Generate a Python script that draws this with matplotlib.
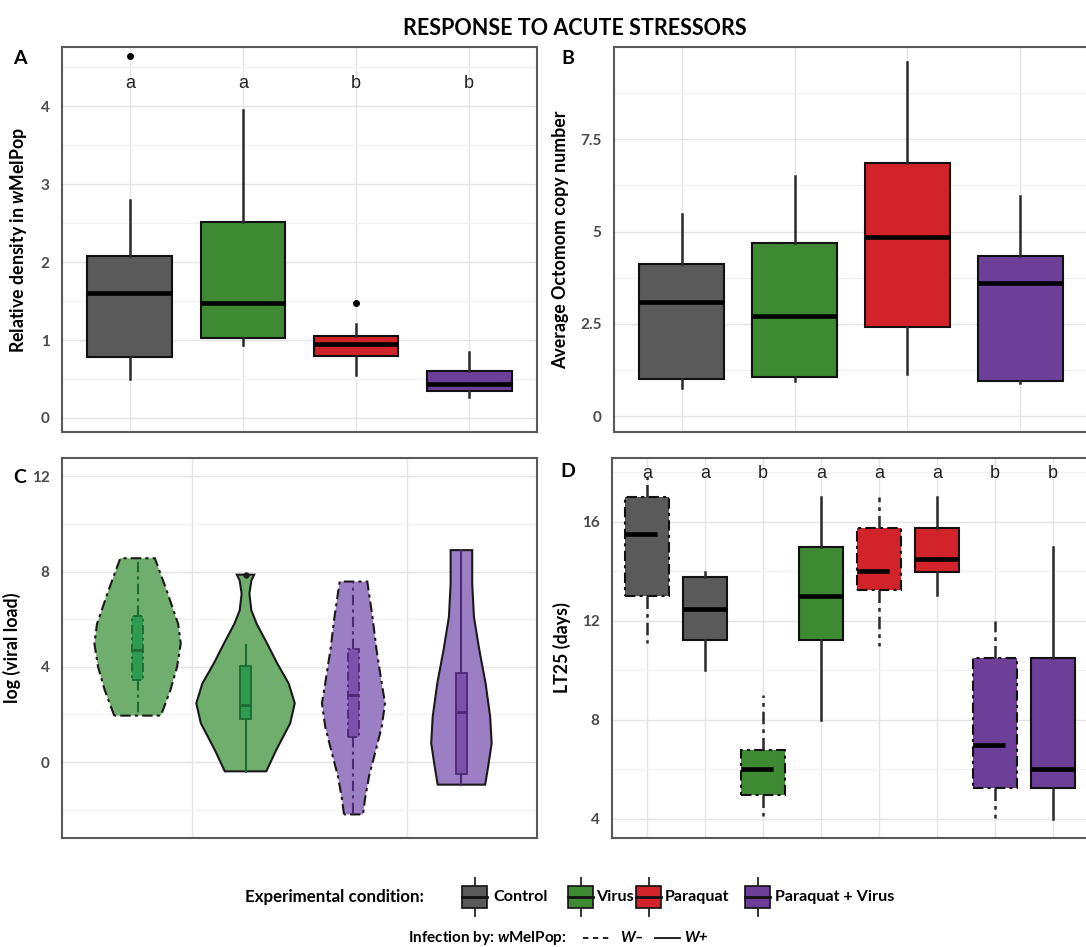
import matplotlib
matplotlib.use("Agg")
import matplotlib.pyplot as plt
import numpy as np
from matplotlib.patches import Rectangle
from matplotlib.lines import Line2D

plt.rcParams['font.family'] = ['Lato', 'DejaVu Sans']
plt.rcParams['mathtext.fontset'] = 'custom'
plt.rcParams['mathtext.rm'] = 'Lato:bold'
plt.rcParams['mathtext.it'] = 'Lato:italic:bold'
plt.rcParams['mathtext.bf'] = 'Lato:bold'

# ---- data ----
conditions = ['Control', 'Virus', 'Paraquat', 'Paraquat + Virus']
cond_colors = ['#5a5a5a', '#3d8a33', '#d2222a', '#6e3f98']

# A: relative density in wMelPop
a_low = [0.50, 0.93, 0.55, 0.27]
a_q1 = [0.78, 1.02, 0.80, 0.35]
a_med = [1.60, 1.48, 0.95, 0.43]
a_q3 = [2.08, 2.52, 1.05, 0.60]
a_high = [2.80, 3.95, 1.20, 0.85]
a_outliers = [[4.64], [], [1.47], []]
a_letters = ['a', 'a', 'b', 'b']

# B: average Octomom copy number
b_low = [0.75, 0.94, 1.15, 0.90]
b_q1 = [1.00, 1.05, 2.42, 0.94]
b_med = [3.08, 2.72, 4.84, 3.60]
b_q3 = [4.13, 4.70, 6.85, 4.35]
b_high = [5.48, 6.50, 9.60, 5.95]

# C: log viral load (Virus W-, Virus W+, P+V W-, P+V W+)
c_groups = ['Virus', 'Paraquat + Virus']
c_infection = ['W-', 'W+', 'W-', 'W+']
c_group_idx = [1, 1, 2, 2]
c_violin_y = [
    [1.95, 3.02, 4.00, 4.98, 5.80, 7.20, 8.56],
    [-0.39, 0.52, 1.63, 2.47, 3.30, 4.14, 4.98, 5.80, 6.37, 7.07, 7.62, 7.87],
    [-2.20, -1.57, -0.60, 0.52, 1.49, 2.47, 3.30, 4.70, 6.09, 7.58],
    [-0.95, -0.18, 0.79, 1.91, 3.30, 4.70, 6.09, 7.48, 8.90],
]
c_violin_hw = [
    [0.108, 0.152, 0.183, 0.200, 0.188, 0.135, 0.080],
    [0.096, 0.143, 0.207, 0.228, 0.200, 0.147, 0.100, 0.052, 0.027, 0.018, 0.027, 0.040],
    [0.044, 0.053, 0.072, 0.104, 0.131, 0.146, 0.131, 0.107, 0.088, 0.064],
    [0.110, 0.124, 0.140, 0.133, 0.112, 0.083, 0.058, 0.050, 0.050],
]
c_low = [1.95, -0.40, -2.20, -0.95]
c_q1 = [3.45, 1.80, 1.05, -0.50]
c_med = [4.70, 2.40, 2.80, 2.10]
c_q3 = [6.15, 4.05, 4.75, 3.75]
c_high = [8.50, 4.90, 7.55, 8.90]
c_outliers = [[], [7.87], [], []]

# D: LT25 (days), conditions x infection
d_condition = ['Control', 'Control', 'Virus', 'Virus', 'Paraquat', 'Paraquat',
               'Paraquat + Virus', 'Paraquat + Virus']
d_infection = ['W-', 'W+', 'W-', 'W+', 'W-', 'W+', 'W-', 'W+']
d_low = [11.1, 10.0, 4.13, 8.0, 11.0, 13.04, 4.04, 4.0]
d_q1 = [13.0, 11.23, 4.96, 11.23, 13.24, 13.97, 5.24, 5.24]
d_med = [15.5, 12.5, 6.0, 13.0, 14.0, 14.5, 7.0, 6.0]
d_q3 = [17.0, 13.77, 6.77, 15.0, 15.74, 15.74, 10.52, 10.52]
d_high = [17.8, 13.97, 9.0, 17.0, 17.0, 17.0, 12.0, 15.0]
d_letters = ['a', 'a', 'b', 'a', 'a', 'a', 'b', 'b']

# ---- style ----
W, H = 1086, 947
DASHED = (0, (5, 2, 1.5, 2))
MED_DASHED = (0, (7, 3))
violin_fill = {'Virus': '#6fae6c', 'Paraquat + Virus': '#9c7ec4'}
inner_fill = {'Virus': '#2e9b50', 'Paraquat + Virus': '#7a52ab'}
inner_edge = {'Virus': '#1d6b33', 'Paraquat + Virus': '#4c2a75'}

fig = plt.figure(figsize=(W / 100, H / 100), dpi=100)


def px_axes(left, top, right, bottom):
    return fig.add_axes([left / W, 1 - bottom / H, (right - left) / W, (bottom - top) / H])


def style_axes(ax, yticks, ylabels, yminor, xticks, ylim, xlim, ylabel):
    ax.set_xlim(xlim)
    ax.set_ylim(ylim)
    ax.set_yticks(yticks)
    ax.set_yticklabels(ylabels, fontweight='bold')
    ax.set_yticks(yminor, minor=True)
    ax.set_xticks(xticks)
    ax.set_xticklabels([])
    ax.grid(True, which='major', color='#e4e4e4', lw=1.0)
    ax.grid(True, which='minor', axis='y', color='#f1f1f1', lw=0.9)
    ax.set_axisbelow(True)
    ax.tick_params(which='both', length=0, pad=9, labelsize=11, labelcolor='#4a4a4a')
    for s in ax.spines.values():
        s.set_color('#5a5a5a')
        s.set_linewidth(1.5)
    ax.set_ylabel(ylabel, fontsize=12.8, fontweight='bold', labelpad=8)


def draw_boxes(ax, pos, low, q1, med, q3, high, colors, dashed, fliers=None, width=0.75):
    stats = []
    for i in range(len(pos)):
        stats.append(dict(whislo=low[i], q1=q1[i], med=med[i], q3=q3[i], whishi=high[i],
                          fliers=fliers[i] if fliers else []))
    ls = DASHED if dashed else '-'
    bp = ax.bxp(stats, positions=pos, widths=width, patch_artist=True, showcaps=False,
                manage_ticks=False,
                boxprops=dict(edgecolor='#111111', linewidth=1.5, linestyle=ls),
                whiskerprops=dict(color='#2a2a2a', linewidth=1.8, linestyle=ls),
                medianprops=dict(color='black', linewidth=3.3,
                                 linestyle=MED_DASHED if dashed else '-', solid_capstyle='butt'),
                flierprops=dict(marker='o', markersize=4, markerfacecolor='black',
                                markeredgecolor='black'))
    for patch, c in zip(bp['boxes'], colors):
        patch.set_facecolor(c)
    return bp


# ---- panel A ----
axA = px_axes(62, 47, 537, 432)
style_axes(axA, [0, 1, 2, 3, 4], ['0', '1', '2', '3', '4'], [0.5, 1.5, 2.5, 3.5, 4.5],
           [1, 2, 3, 4], (-0.18, 4.76), (0.4, 4.6), r'Relative density in $\it{w}$MelPop')
xa = np.arange(1, len(conditions) + 1)
draw_boxes(axA, xa, a_low, a_q1, a_med, a_q3, a_high, cond_colors, False, a_outliers)
for x, lab in zip(xa, a_letters):
    axA.text(x, 4.24, lab, ha='center', va='baseline', fontsize=13,
             family='Liberation Sans', color='#222222')

# ---- panel B ----
axB = px_axes(614, 47, 1088, 432)
style_axes(axB, [0, 2.5, 5, 7.5], ['0', '2.5', '5', '7.5'], [1.25, 3.75, 6.25, 8.75],
           [1, 2, 3, 4], (-0.43, 10.0), (0.4, 4.6), 'Average Octomom copy number')
draw_boxes(axB, xa, b_low, b_q1, b_med, b_q3, b_high, cond_colors, False)

# ---- panel C ----
axC = px_axes(62, 458, 537, 838)
style_axes(axC, [0, 4, 8, 12], ['0', '4', '8', '12'], [-2, 2, 6, 10],
           [1, 2], (-3.19, 12.77), (0.4, 2.6), 'log (viral load)')
for i in range(4):
    grp = c_groups[c_group_idx[i] - 1]
    pos = c_group_idx[i] + (-0.25 if c_infection[i] == 'W-' else 0.25)
    yv = np.array(c_violin_y[i])
    hw = np.array(c_violin_hw[i])
    xs = np.concatenate([pos - hw, (pos + hw)[::-1]])
    ys = np.concatenate([yv, yv[::-1]])
    dashed = c_infection[i] == 'W-'
    axC.fill(xs, ys, facecolor=violin_fill[grp], edgecolor='#1a1a1a', lw=1.5,
             linestyle=DASHED if dashed else '-', zorder=2)
    ls = DASHED if dashed else '-'
    st = [dict(whislo=c_low[i], q1=c_q1[i], med=c_med[i], q3=c_q3[i], whishi=c_high[i],
               fliers=c_outliers[i])]
    axC.bxp(st, positions=[pos], widths=0.048, patch_artist=True, showcaps=False,
            manage_ticks=False, zorder=3,
            boxprops=dict(edgecolor=inner_edge[grp], facecolor=inner_fill[grp],
                          linewidth=1.3, linestyle=ls),
            whiskerprops=dict(color=inner_edge[grp], linewidth=1.5, linestyle=ls),
            medianprops=dict(color=inner_edge[grp], linewidth=2.0),
            flierprops=dict(marker='o', markersize=3.5, markerfacecolor='#1a1a1a',
                            markeredgecolor='#1a1a1a'))

# ---- panel D ----
axD = px_axes(612, 458, 1088, 838)
style_axes(axD, [4, 8, 12, 16], ['4', '8', '12', '16'], [6, 10, 14, 18],
           list(range(1, 9)), (3.23, 18.58), (0.4, 8.6), 'LT25 (days)')
xd = np.arange(1, len(d_condition) + 1)
d_colors = [cond_colors[conditions.index(c)] for c in d_condition]
for inf in ['W-', 'W+']:
    idx = [i for i in range(len(xd)) if d_infection[i] == inf]
    draw_boxes(axD, xd[idx], [d_low[i] for i in idx], [d_q1[i] for i in idx],
               [d_med[i] for i in idx], [d_q3[i] for i in idx], [d_high[i] for i in idx],
               [d_colors[i] for i in idx], inf == 'W-')
for x, lab in zip(xd, d_letters):
    axD.text(x, 17.78, lab, ha='center', va='baseline', fontsize=13,
             family='Liberation Sans', color='#222222')

# ---- overlay: title, panel letters, legend ----
lax = fig.add_axes([0, 0, 1, 1], zorder=5)
lax.set_xlim(0, W)
lax.set_ylim(H, 0)
lax.axis('off')
lax.text(575, 28, 'RESPONSE TO ACUTE STRESSORS', ha='center', va='center',
         fontsize=15.5, fontweight='bold')
for lab, (x, y) in zip('ABCD', [(20, 58), (568, 58), (20, 477), (568, 471)]):
    lax.text(x, y, lab, ha='center', va='center', fontsize=14, fontweight='bold')

ly = 897
lax.text(245, ly, 'Experimental condition:', ha='left', va='center', fontsize=12.2,
         fontweight='bold')
icon_x = [462, 568, 636, 745]
label_x = [493, 596, 665, 775]
for ix, tx, c, name in zip(icon_x, label_x, cond_colors, conditions):
    lax.add_patch(Rectangle((ix, ly - 11), 25, 22, facecolor=c, edgecolor='#111111', lw=1.2))
    lax.add_line(Line2D([ix + 12.5, ix + 12.5], [ly - 19, ly - 11], color='#222222', lw=1.3))
    lax.add_line(Line2D([ix + 12.5, ix + 12.5], [ly + 11, ly + 19], color='#222222', lw=1.3))
    lax.add_line(Line2D([ix, ix + 25], [ly, ly], color='#111111', lw=2))
    lax.text(tx, ly, name, ha='left', va='center', fontsize=11.6, fontweight='bold')

ly2 = 938
lax.text(408, ly2, r'Infection by: $\it{w}$MelPop:', ha='left', va='center', fontsize=11,
         fontweight='bold')
lax.add_line(Line2D([583, 612], [ly2, ly2], color='#111111', lw=1.3, linestyle=(0, (3, 2.5))))
lax.text(620, ly2, 'W–', ha='left', va='center', fontsize=11, fontweight='bold',
         style='italic')
lax.add_line(Line2D([655, 680], [ly2, ly2], color='#111111', lw=1.3))
lax.text(684, ly2, 'W+', ha='left', va='center', fontsize=11, fontweight='bold',
         style='italic')

fig.savefig('out.png', dpi=100)
